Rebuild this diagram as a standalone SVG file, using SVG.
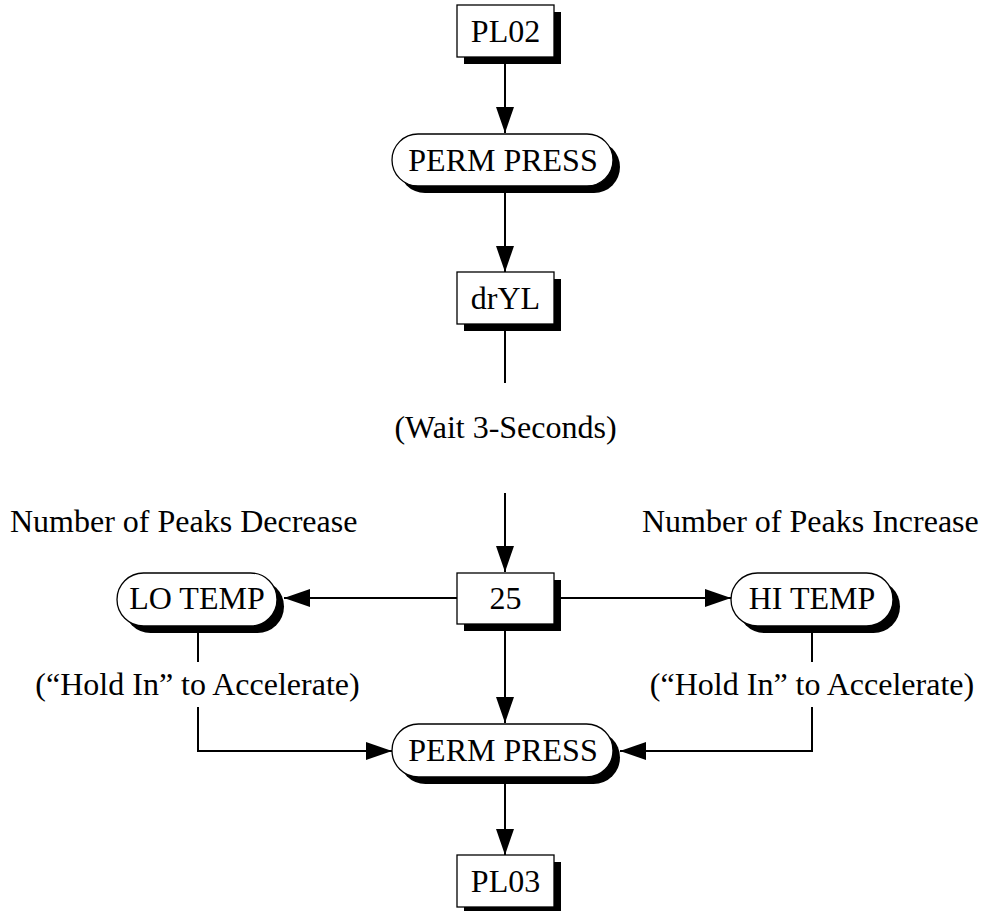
<svg xmlns="http://www.w3.org/2000/svg" width="987" height="911" viewBox="0 0 987 911">
<defs>
<style>
.lbl{font-family:"Liberation Serif","Times New Roman",serif;font-size:32px;fill:#000}
.mid{text-anchor:middle}
.face{fill:#fff;stroke:#000;stroke-width:1.3}
.shadow{fill:#000}
.conn{fill:none;stroke:#000;stroke-width:2}
</style>
<marker id="arr" viewBox="0 0 26 18" refX="26" refY="9" markerWidth="26" markerHeight="18" markerUnits="userSpaceOnUse" orient="auto">
<path d="M0,0 L26,9 L0,18 Z" fill="#000"/>
</marker>
</defs>
<rect width="987" height="911" fill="#fff"/>

<g id="connectors">
<path class="conn" d="M505,57 V133" marker-end="url(#arr)"/>
<path class="conn" d="M505,186 V272" marker-end="url(#arr)"/>
<path class="conn" d="M505,324 V383"/>
<path class="conn" d="M505,493 V572" marker-end="url(#arr)"/>
<path class="conn" d="M457,598 H284" marker-end="url(#arr)"/>
<path class="conn" d="M554,598 H731" marker-end="url(#arr)"/>
<path class="conn" d="M505,624 V723" marker-end="url(#arr)"/>
<path class="conn" d="M198,626 V662"/>
<path class="conn" d="M198,707 V751 H392" marker-end="url(#arr)"/>
<path class="conn" d="M812,626 V662"/>
<path class="conn" d="M812,707 V751 H620" marker-end="url(#arr)"/>
<path class="conn" d="M505,777 V855" marker-end="url(#arr)"/>
</g>

<g id="pl02">
<rect class="shadow" x="464" y="12" width="97" height="52"/>
<rect class="face" x="457" y="5" width="97" height="52"/>
<text class="lbl mid" x="505.5" y="41.5">PL02</text>
</g>

<g id="perm-press-1">
<rect class="shadow" x="399" y="141" width="221" height="52" rx="26"/>
<rect class="face" x="392" y="134" width="221" height="52" rx="26"/>
<text class="lbl mid" x="503" y="170.5">PERM PRESS</text>
</g>

<g id="dryl">
<rect class="shadow" x="464" y="279" width="97" height="52"/>
<rect class="face" x="457" y="272" width="97" height="52"/>
<text class="lbl mid" x="505.5" y="308.5">drYL</text>
</g>

<g id="wait">
<text class="lbl mid" x="505.5" y="438">(Wait 3-Seconds)</text>
</g>

<g id="decrease-label">
<text class="lbl" x="10" y="532">Number of Peaks Decrease</text>
</g>
<g id="increase-label">
<text class="lbl" x="642" y="532">Number of Peaks Increase</text>
</g>

<g id="n25">
<rect class="shadow" x="464" y="580" width="97" height="51"/>
<rect class="face" x="457" y="573" width="97" height="51"/>
<text class="lbl mid" x="505.5" y="609">25</text>
</g>

<g id="lo-temp">
<rect class="shadow" x="124" y="580" width="160" height="53" rx="26.5"/>
<rect class="face" x="117" y="573" width="160" height="53" rx="26.5"/>
<text class="lbl mid" x="197" y="609">LO TEMP</text>
</g>

<g id="hi-temp">
<rect class="shadow" x="738" y="580" width="162" height="53" rx="26.5"/>
<rect class="face" x="731" y="573" width="162" height="53" rx="26.5"/>
<text class="lbl mid" x="812" y="609">HI TEMP</text>
</g>

<g id="hold-left">
<text class="lbl mid" x="197.5" y="695">(“Hold In” to Accelerate)</text>
</g>
<g id="hold-right">
<text class="lbl mid" x="812" y="695">(“Hold In” to Accelerate)</text>
</g>

<g id="perm-press-2">
<rect class="shadow" x="399" y="731" width="221" height="53" rx="26.5"/>
<rect class="face" x="392" y="724" width="221" height="53" rx="26.5"/>
<text class="lbl mid" x="503" y="761">PERM PRESS</text>
</g>

<g id="pl03">
<rect class="shadow" x="464" y="862" width="97" height="52"/>
<rect class="face" x="457" y="855" width="97" height="52"/>
<text class="lbl mid" x="505.5" y="891.5">PL03</text>
</g>
</svg>
